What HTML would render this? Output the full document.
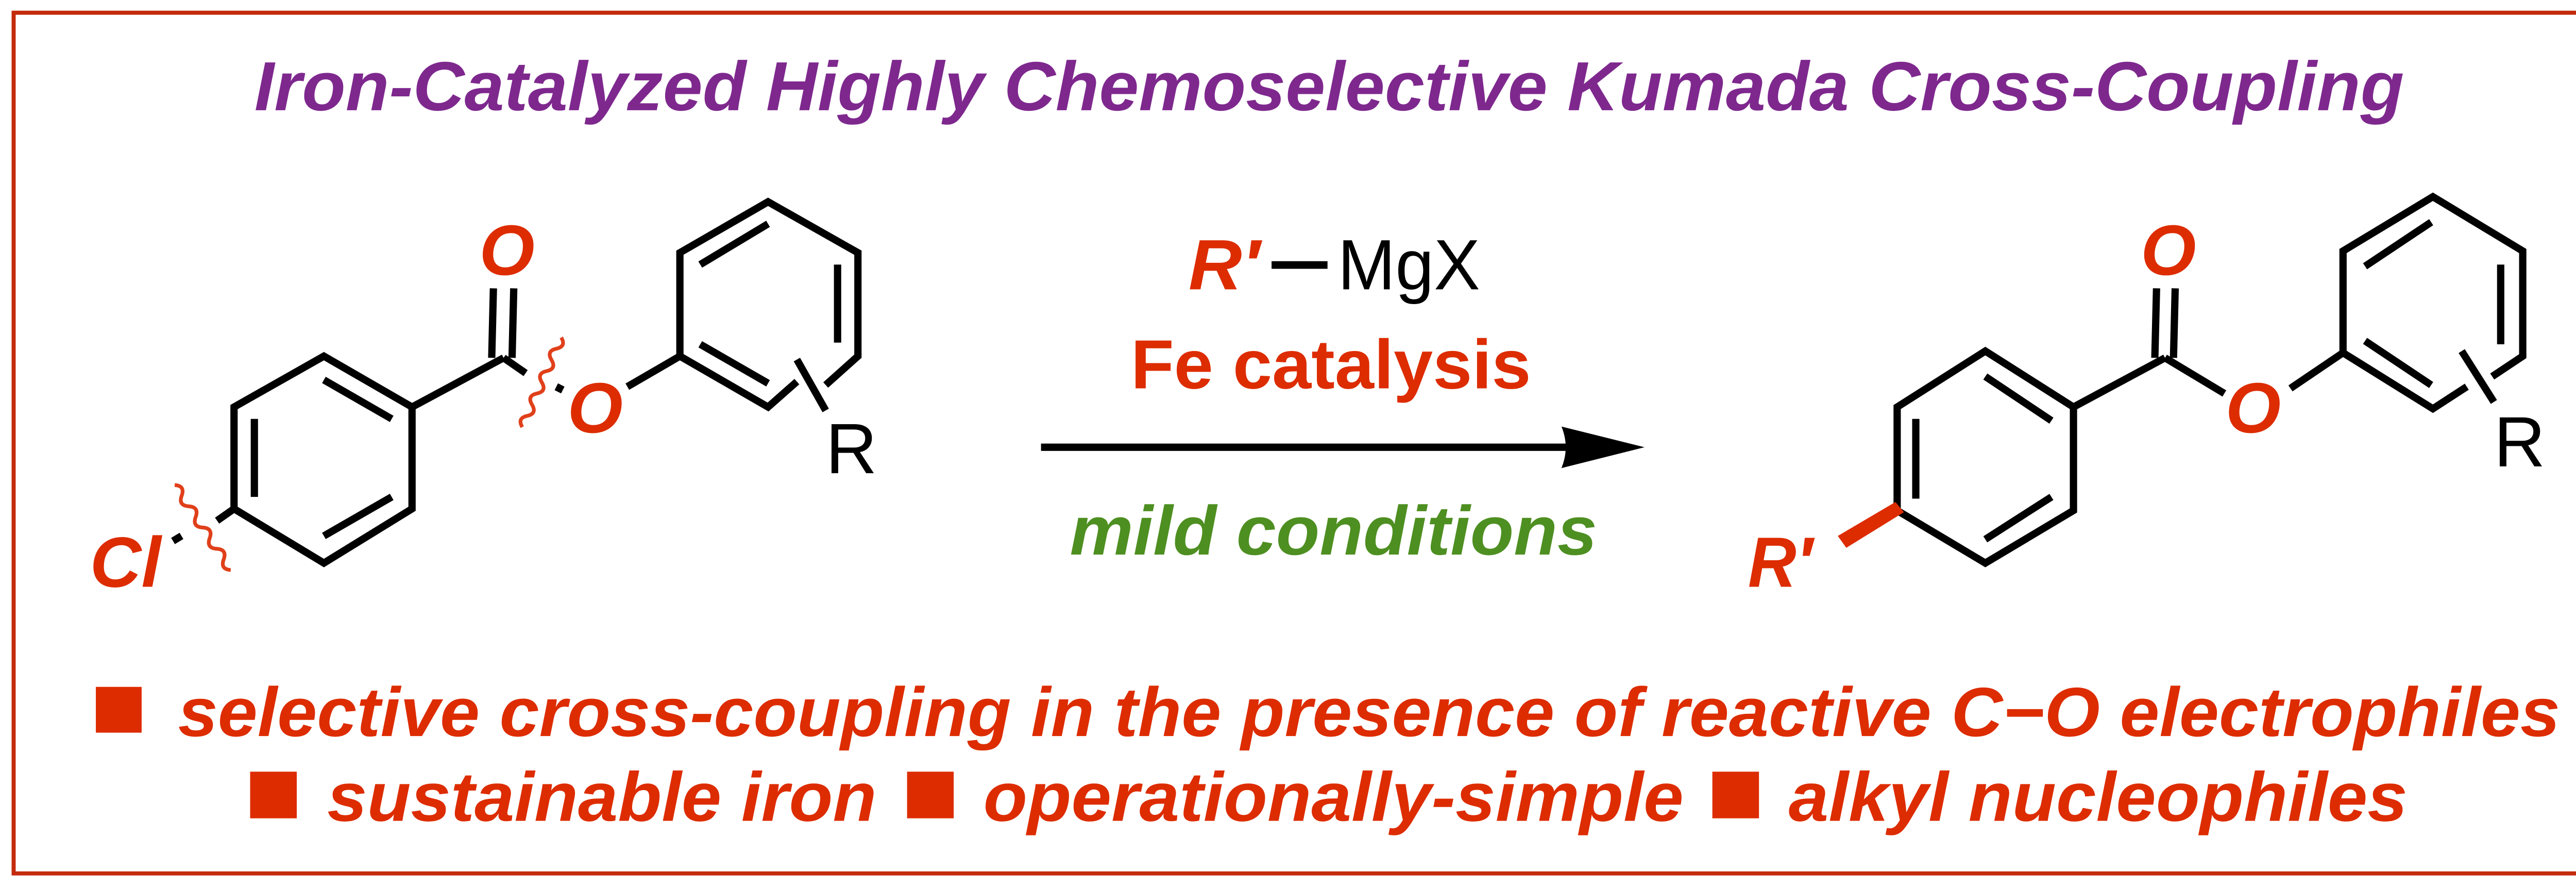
<!DOCTYPE html>
<html><head><meta charset="utf-8"><style>html,body{margin:0;padding:0;background:#fff}svg{display:block}</style></head>
<body>
<svg width="5160" height="1721" viewBox="0 0 1568 523" xmlns="http://www.w3.org/2000/svg" font-family="Liberation Sans, Arial, sans-serif">
<rect x="0" y="0" width="1568" height="523" fill="#fff"/>
<rect x="8" y="7.5" width="1554" height="507.5" fill="none" stroke="#C42A0C" stroke-width="2.4"/>
<text x="150" y="65" font-size="41" font-weight="bold" font-style="italic" fill="#7E288E" textLength="1268" lengthAdjust="spacingAndGlyphs">Iron-Catalyzed Highly Chemoselective Kumada Cross-Coupling</text>

<g stroke="#000" stroke-width="4.3" fill="none" stroke-linecap="butt" stroke-linejoin="miter">
<!-- left molecule -->
<polygon points="191,210 243,240 243,300 191,332 138,300 138,240"/>
<line x1="191" y1="224" x2="231" y2="247"/>
<line x1="150" y1="247" x2="150" y2="293"/>
<line x1="191" y1="316" x2="231" y2="293"/>
<line x1="243" y1="240" x2="297" y2="211"/>
<line x1="290" y1="211" x2="291" y2="170"/>
<line x1="302" y1="211" x2="303" y2="170"/>
<line x1="297" y1="211" x2="310" y2="220"/>
<line x1="370" y1="228" x2="401" y2="210"/>
<polyline points="470,225 453,240 401,210 401,149 453,119 506,149 506,210 487,227"/>
<line x1="413" y1="156" x2="453" y2="132"/>
<line x1="494" y1="156" x2="494" y2="202"/>
<line x1="413" y1="203" x2="453" y2="226"/>
<line x1="470" y1="212" x2="487" y2="242"/>
<line x1="138" y1="300" x2="128" y2="307"/>
<line x1="102" y1="319" x2="107" y2="316"/>
<line x1="331" y1="227" x2="329" y2="231"/>
<!-- right molecule -->
<polygon points="1171,207 1223,240 1223,301 1171,332 1119,301 1119,240"/>
<line x1="1130" y1="247" x2="1130" y2="294"/>
<line x1="1171" y1="222" x2="1210" y2="248"/>
<line x1="1171" y1="318" x2="1210" y2="293"/>
<line x1="1223" y1="240" x2="1277" y2="211"/>
<line x1="1271" y1="211" x2="1272" y2="170"/>
<line x1="1282" y1="211" x2="1283" y2="170"/>
<line x1="1277" y1="211" x2="1312" y2="232"/>
<line x1="1351" y1="229" x2="1382" y2="208"/>
<polyline points="1455,228 1435,241 1382,208 1382,148 1435,116 1488,148 1488,210 1470,222"/>
<line x1="1395" y1="157" x2="1434" y2="131"/>
<line x1="1475" y1="156" x2="1475" y2="203"/>
<line x1="1395" y1="201" x2="1434" y2="227"/>
<line x1="1452" y1="207" x2="1471" y2="237"/>
<!-- arrow -->
<line x1="614" y1="263.7" x2="935" y2="263.7" stroke-width="4.3"/>
</g>
<path d="M970,263.7 L921,251.5 Q926,263.7 921,276 Z" fill="#000"/>
<polygon points="1118,296 1123,302 1089,323 1084,316" fill="#DD2C00"/>

<!-- squiggles -->
<g fill="none" stroke="#E0401A" stroke-width="2.2">
<path transform="translate(103,286) rotate(56.6)" d="M0,0 q3.75,-5 7.5,0 t7.5,0 t7.5,0 t7.5,0 t7.5,0 t7.5,0 t7.5,0 t7.5,0"/>
<path transform="translate(331,199) rotate(113.5)" d="M0,0 q3.6,-5 7.2,0 t7.2,0 t7.2,0 t7.2,0 t7.2,0 t7.2,0 t7.2,0 t7.2,0"/>
</g>

<g font-weight="bold" font-style="italic" fill="#DD2C00" font-size="42">
<text x="299" y="162" text-anchor="middle">O</text>
<text x="351" y="255" text-anchor="middle">O</text>
<text x="74" y="346" text-anchor="middle">Cl</text>
<text x="1279" y="162" text-anchor="middle">O</text>
<text x="1329" y="255" text-anchor="middle">O</text>
<text x="1031" y="346" textLength="38" lengthAdjust="spacingAndGlyphs">R′</text>
<text x="701" y="170.6" textLength="42" lengthAdjust="spacingAndGlyphs">R′</text>
</g>
<g font-size="42" fill="#000">
<text x="487" y="279">R</text>
<text x="1471" y="275">R</text>
<text x="789" y="170.6" textLength="84" lengthAdjust="spacingAndGlyphs">MgX</text>
</g>
<rect x="750" y="154" width="33" height="4.5" fill="#000"/>
<text x="667" y="229" font-size="41" font-weight="bold" fill="#DD2C00" textLength="236" lengthAdjust="spacingAndGlyphs">Fe catalysis</text>
<text x="631" y="327" font-size="41" font-weight="bold" font-style="italic" fill="#4E8F21" textLength="311" lengthAdjust="spacingAndGlyphs">mild conditions</text>

<g fill="#DD2C00">
<rect x="56.5" y="405" width="27" height="27"/>
<rect x="147.5" y="455" width="27.5" height="27.5"/>
<rect x="535" y="455" width="27.5" height="27.5"/>
<rect x="1010" y="455" width="27.5" height="27.5"/>
<g font-size="41" font-weight="bold" font-style="italic">
<text x="105" y="434" textLength="1405" lengthAdjust="spacingAndGlyphs">selective cross-coupling in the presence of reactive C−O electrophiles</text>
<text x="193" y="484" textLength="324" lengthAdjust="spacingAndGlyphs">sustainable iron</text>
<text x="580" y="484" textLength="413" lengthAdjust="spacingAndGlyphs">operationally-simple</text>
<text x="1055" y="484" textLength="365" lengthAdjust="spacingAndGlyphs">alkyl nucleophiles</text>
</g>
</g>
</svg>
</body></html>
